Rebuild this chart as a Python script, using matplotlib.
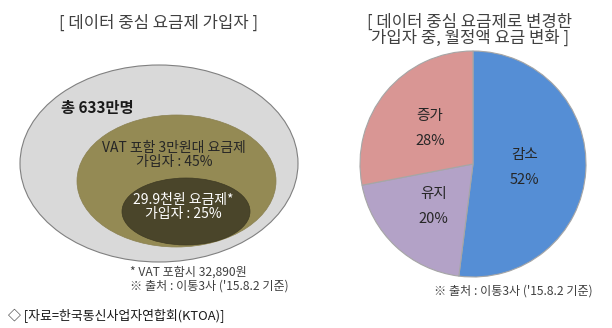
import numpy as np
import matplotlib.pyplot as plt
from matplotlib.patches import Ellipse

plt.rcParams['font.family'] = ['Noto Sans CJK KR', 'DejaVu Sans']

# 데이터 중심 요금제 가입자 (단위: 만명, %)
total_users = 633
tier_labels = ['VAT 포함 3만원대 요금제\n가입자 : {}%', '29.9천원 요금제*\n가입자 : {}%']
tier_shares = [45, 25]

# 요금제 변경 가입자의 월정액 요금 변화 (%)
change_labels = ['감소', '유지', '증가']
change_shares = [52, 20, 28]
change_colors = ['#558ed5', '#b3a2c7', '#d99694']

fig = plt.figure(figsize=(6.12, 3.28), dpi=100)
ax = fig.add_axes([0, 0, 1, 1])

# 오른쪽 파이 (y축을 뒤집으므로 startangle=-90 이 위쪽)
wedges, _ = ax.pie(change_shares, colors=change_colors, startangle=-90,
                   counterclock=True, center=(473, 164), radius=113,
                   wedgeprops=dict(edgecolor='#a6a6a6', linewidth=0.8))
ax.set_xlim(0, 612)
ax.set_ylim(328, 0)
ax.set_aspect('equal')
ax.axis('off')

label_r = [52, 58, 56]
for w, name, share, r in zip(wedges, change_labels, change_shares, label_r):
    mid = np.deg2rad((w.theta1 + w.theta2) / 2)
    x = w.center[0] + r * np.cos(mid)
    y = w.center[1] + r * np.sin(mid)
    ax.text(x, y, f'{name}\n\n{share}%', ha='center', va='center',
            fontsize=10.5, color='#262626', linespacing=0.85)

# 왼쪽 타원
ax.add_patch(Ellipse((159, 163.5), 278, 197, facecolor='#d9d9d9',
                     edgecolor='#808080', linewidth=0.8))
ax.add_patch(Ellipse((176.5, 181), 199, 132, facecolor='#948a54',
                     edgecolor='#8a8050', linewidth=0.5))
ax.add_patch(Ellipse((186, 211.5), 128, 67, facecolor='#4a452a',
                     edgecolor='#3e3a23', linewidth=0.5))

ax.text(97, 108, f'총 {total_users}만명', ha='center', va='center',
        fontsize=11, fontweight='bold', color='#1a1a1a')
ax.text(174, 155, tier_labels[0].format(tier_shares[0]), ha='center',
        va='center', fontsize=10, color='#262626', linespacing=1.0)
ax.text(183, 207, tier_labels[1].format(tier_shares[1]), ha='center',
        va='center', fontsize=10, color='white', linespacing=1.0)

# 제목
ax.text(159, 23, '[ 데이터 중심 요금제 가입자 ]', ha='center', va='center',
        fontsize=12, color='#404040')
ax.text(470, 30, '[ 데이터 중심 요금제로 변경한\n가입자 중, 월정액 요금 변화 ]',
        ha='center', va='center', fontsize=12, color='#404040',
        linespacing=0.95)

# 주석
ax.text(130, 279.5, '* VAT 포함시 32,890원\n※ 출처 : 이통3사 (\'15.8.2 기준)',
        ha='left', va='center', fontsize=8.7, color='#404040', linespacing=1.1)
ax.text(593, 291, '※ 출처 : 이통3사 (\'15.8.2 기준)', ha='right', va='center',
        fontsize=8.7, color='#404040')
ax.text(8, 316, '◇ [자료=한국통신사업자연합회(KTOA)]', ha='left', va='center',
        fontsize=9.3, color='#1a1a1a')

fig.savefig('out.png', dpi=100, facecolor='white')
